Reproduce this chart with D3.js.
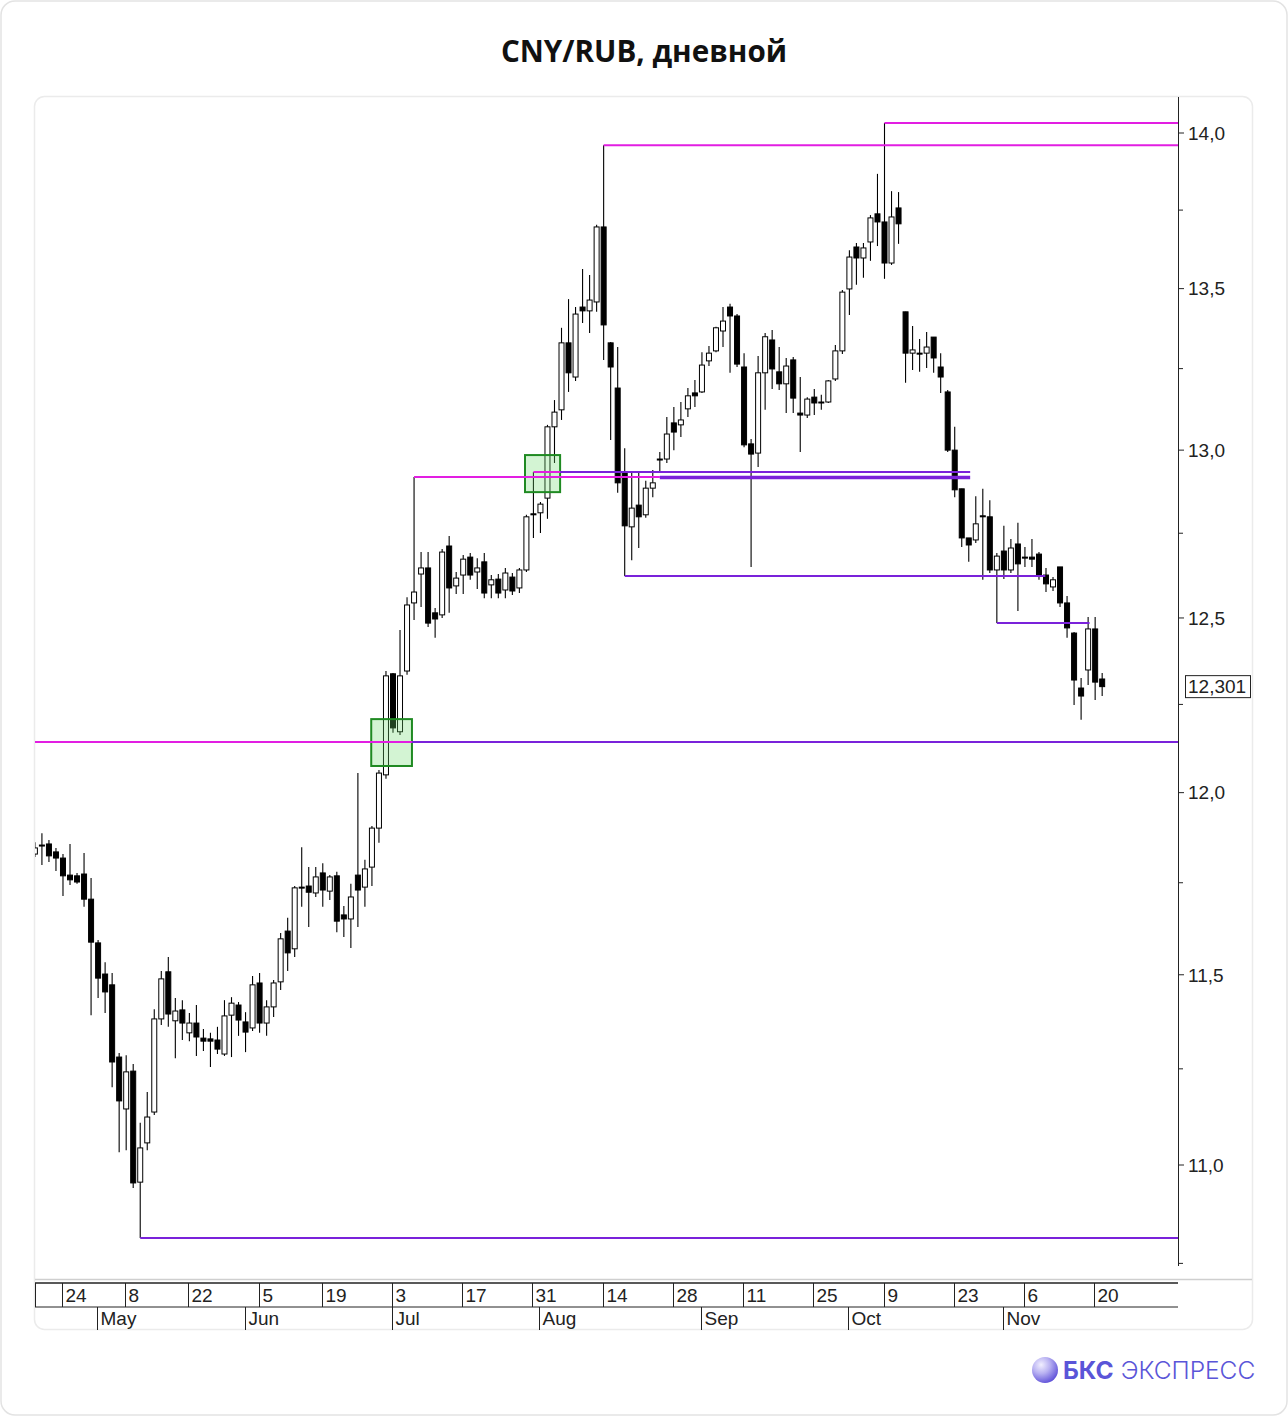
<!DOCTYPE html>
<html><head><meta charset="utf-8">
<script src="https://cdn.jsdelivr.net/npm/d3@7"></script>
<style>body{margin:0;background:#fff;} svg{display:block;}</style>
</head><body>
<svg id="chart" width="1288" height="1417"></svg>
<script>
// ---------- DATA ----------
const dates = [
"2023-04-18","2023-04-19","2023-04-20","2023-04-21","2023-04-24","2023-04-25","2023-04-26","2023-04-27","2023-04-28",
"2023-05-02","2023-05-03","2023-05-04","2023-05-05","2023-05-08","2023-05-10","2023-05-11","2023-05-12","2023-05-15","2023-05-16","2023-05-17","2023-05-18","2023-05-19","2023-05-22","2023-05-23","2023-05-24","2023-05-25","2023-05-26","2023-05-29","2023-05-30","2023-05-31",
"2023-06-01","2023-06-02","2023-06-05","2023-06-06","2023-06-07","2023-06-08","2023-06-09","2023-06-13","2023-06-14","2023-06-15","2023-06-16","2023-06-19","2023-06-20","2023-06-21","2023-06-22","2023-06-23","2023-06-26","2023-06-27","2023-06-28","2023-06-29","2023-06-30",
"2023-07-03","2023-07-04","2023-07-05","2023-07-06","2023-07-07","2023-07-10","2023-07-11","2023-07-12","2023-07-13","2023-07-14","2023-07-17","2023-07-18","2023-07-19","2023-07-20","2023-07-21","2023-07-24","2023-07-25","2023-07-26","2023-07-27","2023-07-28","2023-07-31",
"2023-08-01","2023-08-02","2023-08-03","2023-08-04","2023-08-07","2023-08-08","2023-08-09","2023-08-10","2023-08-11","2023-08-14","2023-08-15","2023-08-16","2023-08-17","2023-08-18","2023-08-21","2023-08-22","2023-08-23","2023-08-24","2023-08-25","2023-08-28","2023-08-29","2023-08-30","2023-08-31",
"2023-09-01","2023-09-04","2023-09-05","2023-09-06","2023-09-07","2023-09-08","2023-09-11","2023-09-12","2023-09-13","2023-09-14","2023-09-15","2023-09-18","2023-09-19","2023-09-20","2023-09-21","2023-09-22","2023-09-25","2023-09-26","2023-09-27","2023-09-28","2023-09-29",
"2023-10-02","2023-10-03","2023-10-04","2023-10-05","2023-10-06","2023-10-09","2023-10-10","2023-10-11","2023-10-12","2023-10-13","2023-10-16","2023-10-17","2023-10-18","2023-10-19","2023-10-20","2023-10-23","2023-10-24","2023-10-25","2023-10-26","2023-10-27","2023-10-30","2023-10-31",
"2023-11-01","2023-11-02","2023-11-03","2023-11-06","2023-11-07","2023-11-08","2023-11-09","2023-11-10","2023-11-13","2023-11-14","2023-11-15","2023-11-16","2023-11-17","2023-11-20","2023-11-21"
];
const openPrices = [
11.829,11.854,11.857,11.835,11.818,11.771,11.769,11.774,11.705,11.586,
11.502,11.473,11.281,11.145,11.244,10.956,11.057,11.137,11.382,11.508,
11.377,11.406,11.345,11.371,11.331,11.329,11.326,11.289,11.392,11.419,
11.374,11.358,11.478,11.371,11.414,11.481,11.618,11.570,11.738,11.741,
11.722,11.777,11.727,11.769,11.662,11.651,11.771,11.738,11.793,11.901,
12.050,12.338,12.172,12.346,12.544,12.629,12.647,12.515,12.509,12.712,
12.594,12.626,12.679,12.635,12.665,12.597,12.614,12.582,12.620,12.588,
12.641,12.808,12.811,12.855,13.071,13.123,13.330,13.224,13.442,13.430,
13.458,13.696,13.330,13.190,12.934,12.769,12.834,12.805,12.885,12.973,
12.973,13.083,13.077,13.126,13.175,13.178,13.274,13.305,13.367,13.442,
13.414,13.255,13.019,12.991,13.237,13.339,13.240,13.203,13.277,13.113,
13.107,13.162,13.147,13.147,13.218,13.305,13.499,13.632,13.597,13.648,
13.738,13.712,13.581,13.757,13.427,13.298,13.298,13.298,13.348,13.255,
13.178,13.000,12.883,12.736,12.730,12.802,12.799,12.641,12.697,12.641,
12.718,12.679,12.679,12.688,12.626,12.591,12.650,12.544,12.456,12.297,
12.349,12.468,12.323
];
const highPrices = [
11.862,11.887,11.868,11.846,11.829,11.857,11.777,11.832,11.763,11.594,
11.534,11.505,11.292,11.286,11.263,11.109,11.189,11.408,11.510,11.548,
11.438,11.432,11.398,11.419,11.355,11.345,11.361,11.432,11.440,11.427,
11.400,11.497,11.505,11.432,11.486,11.613,11.654,11.741,11.848,11.793,
11.793,11.804,11.771,11.780,11.686,11.747,12.055,11.813,11.907,12.064,
12.346,12.340,12.465,12.561,12.919,12.694,12.694,12.529,12.703,12.742,
12.635,12.685,12.691,12.676,12.691,12.626,12.629,12.647,12.632,12.647,
12.805,12.934,12.843,13.077,13.153,13.377,13.467,13.442,13.562,13.543,
13.703,13.960,13.333,13.317,13.006,12.931,12.931,12.907,12.940,12.994,
13.101,13.132,13.147,13.190,13.215,13.301,13.320,13.380,13.442,13.452,
13.420,13.298,13.034,13.289,13.361,13.370,13.317,13.283,13.286,13.224,
13.162,13.187,13.169,13.215,13.323,13.496,13.622,13.645,13.645,13.734,
13.867,14.033,13.811,13.808,13.427,13.383,13.342,13.364,13.348,13.298,
13.184,13.071,12.883,12.736,12.861,12.883,12.849,12.691,12.772,12.733,
12.781,12.709,12.733,12.694,12.647,12.620,12.650,12.564,12.459,12.326,
12.503,12.503,12.340
];
const lowPrices = [
11.821,11.799,11.807,11.782,11.714,11.744,11.747,11.684,11.392,11.438,
11.398,11.202,11.033,11.038,10.941,10.814,11.038,11.129,11.366,11.361,
11.278,11.326,11.323,11.284,11.297,11.255,11.289,11.284,11.281,11.337,
11.294,11.350,11.345,11.337,11.387,11.459,11.510,11.548,11.684,11.629,
11.711,11.684,11.703,11.615,11.602,11.572,11.629,11.684,11.741,11.860,
12.039,12.169,12.163,12.335,12.494,12.532,12.474,12.442,12.500,12.515,
12.570,12.570,12.612,12.585,12.558,12.558,12.558,12.558,12.567,12.573,
12.635,12.736,12.751,12.793,12.961,13.092,13.178,13.212,13.392,13.361,
13.427,13.277,13.031,12.871,12.623,12.670,12.706,12.796,12.858,12.934,
12.961,13.000,13.040,13.101,13.132,13.175,13.258,13.301,13.317,13.237,
13.255,13.009,12.650,12.949,13.123,13.187,13.184,13.113,13.113,12.994,
13.098,13.107,13.123,13.144,13.212,13.295,13.417,13.512,13.534,13.588,
13.635,13.531,13.575,13.642,13.206,13.246,13.240,13.252,13.237,13.175,
12.994,12.858,12.709,12.665,12.721,12.612,12.632,12.485,12.614,12.632,
12.520,12.650,12.650,12.612,12.576,12.579,12.532,12.442,12.248,12.206,
12.306,12.263,12.274
];
const closePrices = [
11.846,11.854,11.824,11.818,11.769,11.758,11.752,11.705,11.588,11.491,
11.454,11.268,11.166,11.242,10.954,11.044,11.124,11.382,11.489,11.395,
11.403,11.371,11.371,11.334,11.323,11.323,11.302,11.390,11.424,11.379,
11.347,11.473,11.371,11.414,11.478,11.597,11.559,11.736,11.738,11.724,
11.766,11.730,11.766,11.645,11.651,11.711,11.730,11.788,11.901,12.055,
12.332,12.183,12.332,12.538,12.576,12.647,12.485,12.497,12.694,12.588,
12.617,12.673,12.626,12.647,12.573,12.612,12.573,12.632,12.579,12.641,
12.799,12.805,12.837,13.071,13.116,13.330,13.237,13.420,13.430,13.464,
13.696,13.386,13.255,12.901,12.772,12.825,12.799,12.885,12.901,12.973,
13.049,13.055,13.092,13.166,13.166,13.261,13.298,13.377,13.398,13.414,
13.264,13.016,12.988,13.237,13.349,13.249,13.203,13.258,13.159,13.107,
13.156,13.144,13.144,13.212,13.305,13.489,13.600,13.597,13.629,13.725,
13.712,13.581,13.728,13.706,13.298,13.308,13.298,13.317,13.283,13.224,
13.000,12.880,12.736,12.715,12.778,12.802,12.641,12.682,12.641,12.706,
12.659,12.679,12.673,12.626,12.600,12.612,12.544,12.471,12.320,12.274,
12.468,12.314,12.301
];
const lastPrice = 12.301;

// x-axis: week ticks (every second Monday) and first trading day of each month
const weekTickDates = ["2023-04-24","2023-05-08","2023-05-22","2023-06-05","2023-06-19","2023-07-03","2023-07-17","2023-07-31","2023-08-14","2023-08-28","2023-09-11","2023-09-25","2023-10-09","2023-10-23","2023-11-06","2023-11-20"];
const monthStartDates = ["2023-05-02","2023-06-01","2023-07-03","2023-08-01","2023-09-01","2023-10-02","2023-11-01"];
const monthLabels = ["May","Jun","Jul","Aug","Sep","Oct","Nov"];

// y-axis ticks
const yTickValues = [11, 11.5, 12, 12.5, 13, 13.5, 14];
const yMinorTickValues = [10.75, 11.25, 11.75, 12.25, 12.75, 13.25, 13.75];

// horizontal levels (price, from bar index, to bar index; null = right edge), kind
const levelPrice = [13.960, 14.033, 12.919, 12.934, 12.934, 12.917, 12.623, 12.485, 12.143, 12.143, 10.814];
const levelFrom  = [81,     121,    54,     71,     74.8,   89,     84,     137,    -1,     53.7,   15];
const levelTo    = [null,   null,   89,     84.8,   133.2,  133.2,  143.9,  150.2,  53.7,   null,   null];
const levelKind  = ["res",  "res",  "res",  "res",  "sup",  "supBold","sup", "sup",  "res",  "sup",  "sup"];

// highlighted zones
const zoneFrom = [47.9, 69.8];
const zoneTo   = [53.7, 74.8];
const zoneLow  = [12.075, 12.873];
const zoneHigh = [12.208, 12.985];

// ---------- CHART ----------
const svg = d3.select("#chart");
const plot = {left: 35, right: 1178, top: 97, bottom: 1266};
const rightPadBars = 10.8;
const x = d3.scaleLinear().domain([0, dates.length - 1 + rightPadBars]).range([34.9, plot.right]);
const y = d3.scaleLog().domain([11, 14]).range([1165, 133]);
const idx = d => dates.indexOf(d);
const fmt = v => v.toFixed(1).replace(".", ",");

// cards
svg.append("rect").attr("x", 1).attr("y", 1).attr("width", 1286).attr("height", 1414)
  .attr("rx", 14).attr("fill", "#fff").attr("stroke", "#e3e3e3").attr("stroke-width", 1.5);
svg.append("rect").attr("x", 34.5).attr("y", 96.5).attr("width", 1218).attr("height", 1233)
  .attr("rx", 10).attr("fill", "#fff").attr("stroke", "#ebebeb").attr("stroke-width", 1.5);

// title
svg.append("text").attr("x", 644).attr("y", 62).attr("text-anchor", "middle")
  .attr("font-family", "'Open Sans', sans-serif").attr("font-weight", 700).attr("font-size", 29.6)
  .attr("fill", "#111").text("CNY/RUB, дневной");

svg.append("defs").append("clipPath").attr("id", "plotClip").append("rect")
  .attr("x", plot.left).attr("y", plot.top).attr("width", plot.right - plot.left).attr("height", plot.bottom - plot.top);

const g = svg.append("g").attr("clip-path", "url(#plotClip)");

// candles
const bars = d3.range(dates.length);
const bodyW = 5;
g.append("g").selectAll("line").data(bars).join("line")
  .attr("x1", i => x(i)).attr("x2", i => x(i))
  .attr("y1", i => y(highPrices[i])).attr("y2", i => y(lowPrices[i]))
  .attr("stroke", "#000").attr("stroke-width", 1.1);
g.append("g").selectAll("rect").data(bars).join("rect")
  .attr("x", i => x(i) - bodyW / 2)
  .attr("y", i => y(Math.max(openPrices[i], closePrices[i])))
  .attr("width", bodyW)
  .attr("height", i => Math.max(1, Math.abs(y(openPrices[i]) - y(closePrices[i]))))
  .attr("fill", i => closePrices[i] > openPrices[i] ? "#fff" : "#000")
  .attr("stroke", "#000").attr("stroke-width", 1);

// zones
g.append("g").selectAll("rect").data(d3.range(zoneFrom.length)).join("rect")
  .attr("x", i => x(zoneFrom[i])).attr("width", i => x(zoneTo[i]) - x(zoneFrom[i]))
  .attr("y", i => y(zoneHigh[i])).attr("height", i => y(zoneLow[i]) - y(zoneHigh[i]))
  .attr("fill", "rgba(110,220,110,0.30)").attr("stroke", "#1f8a22").attr("stroke-width", 2);

// levels
const levelColor = {res: "#e21ee2", sup: "#7a22da", supBold: "#7a22da"};
const levelWidth = {res: 2, sup: 2, supBold: 3.5};
g.append("g").selectAll("line").data(d3.range(levelPrice.length)).join("line")
  .attr("x1", i => x(levelFrom[i]))
  .attr("x2", i => levelTo[i] === null ? plot.right : x(levelTo[i]))
  .attr("y1", i => y(levelPrice[i])).attr("y2", i => y(levelPrice[i]))
  .attr("stroke", i => levelColor[levelKind[i]])
  .attr("stroke-width", i => levelWidth[levelKind[i]]);

// y axis (right)
const axisFont = "'Liberation Sans', Arial, sans-serif";
svg.append("line").attr("x1", plot.right + 0.5).attr("x2", plot.right + 0.5)
  .attr("y1", plot.top).attr("y2", plot.bottom).attr("stroke", "#222").attr("stroke-width", 1);
svg.append("g").selectAll("line").data(yTickValues).join("line")
  .attr("x1", plot.right).attr("x2", plot.right + 6)
  .attr("y1", d => y(d)).attr("y2", d => y(d)).attr("stroke", "#222");
svg.append("g").selectAll("line").data(yMinorTickValues).join("line")
  .attr("x1", plot.right).attr("x2", plot.right + 5)
  .attr("y1", d => y(d)).attr("y2", d => y(d)).attr("stroke", "#222");
svg.append("g").selectAll("text").data(yTickValues).join("text")
  .attr("x", plot.right + 10).attr("y", d => y(d)).attr("dy", "0.36em")
  .attr("font-family", axisFont).attr("font-size", 19).attr("fill", "#222")
  .text(fmt);

// last price label
svg.append("rect").attr("x", plot.right + 7.5).attr("y", y(lastPrice) - 11).attr("width", 65).attr("height", 22)
  .attr("fill", "#fff").attr("stroke", "#222").attr("stroke-width", 1);
svg.append("text").attr("x", plot.right + 10).attr("y", y(lastPrice)).attr("dy", "0.36em")
  .attr("font-family", axisFont).attr("font-size", 19).attr("fill", "#222")
  .text(lastPrice.toFixed(3).replace(".", ","));

// x axis (bottom, two rows)
const rowTop = 1283, rowMid = 1307, rowBot = 1330;
svg.append("line").attr("x1", plot.left).attr("x2", 1252).attr("y1", 1279.5).attr("y2", 1279.5)
  .attr("stroke", "#cfcfcf").attr("stroke-width", 1.5);
svg.append("line").attr("x1", plot.left).attr("x2", plot.right).attr("y1", rowTop).attr("y2", rowTop)
  .attr("stroke", "#222").attr("stroke-width", 1.5);
svg.append("line").attr("x1", plot.left).attr("x2", plot.right).attr("y1", rowMid).attr("y2", rowMid)
  .attr("stroke", "#222").attr("stroke-width", 1);
svg.append("line").attr("x1", plot.left + 0.5).attr("x2", plot.left + 0.5).attr("y1", rowTop).attr("y2", rowMid)
  .attr("stroke", "#222");
const wk = svg.append("g").selectAll("g").data(weekTickDates).join("g")
  .attr("transform", d => `translate(${Math.round(x(idx(d))) - 0.5},0)`);
wk.append("line").attr("y1", rowTop).attr("y2", rowMid).attr("stroke", "#222");
wk.append("text").attr("x", 3).attr("y", rowMid - 5)
  .attr("font-family", axisFont).attr("font-size", 19).attr("fill", "#222")
  .text(d => +d.slice(8));
const mo = svg.append("g").selectAll("g").data(monthStartDates).join("g")
  .attr("transform", d => `translate(${Math.round(x(idx(d))) - 0.5},0)`);
mo.append("line").attr("y1", rowMid).attr("y2", rowBot).attr("stroke", "#222");
mo.append("text").attr("x", 3).attr("y", rowBot - 5)
  .attr("font-family", axisFont).attr("font-size", 19).attr("fill", "#222")
  .text((d, i) => monthLabels[i]);

// logo
const defs = svg.select("defs");
const grad = defs.append("radialGradient").attr("id", "sphere").attr("cx", "35%").attr("cy", "30%").attr("r", "75%");
grad.append("stop").attr("offset", "0%").attr("stop-color", "#f1efff");
grad.append("stop").attr("offset", "45%").attr("stop-color", "#b9b2f2");
grad.append("stop").attr("offset", "100%").attr("stop-color", "#5d4fd8");
svg.append("circle").attr("cx", 1045).attr("cy", 1370).attr("r", 13).attr("fill", "url(#sphere)");
const logo = svg.append("text").attr("x", 1063).attr("y", 1379)
  .attr("font-family", "Inter, 'Open Sans', sans-serif").attr("font-size", 24.5).attr("fill", "#5a55d8");
logo.append("tspan").attr("font-weight", 700).text("БКС");
logo.append("tspan").attr("font-weight", 300).attr("dx", 7).text("ЭКСПРЕСС");
</script>
</body></html>
